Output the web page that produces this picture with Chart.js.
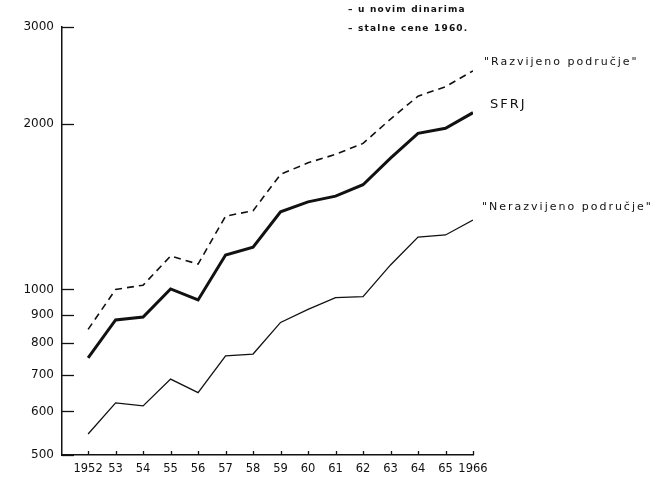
<!DOCTYPE html>
<html>
<head>
<meta charset="utf-8">
<script src="https://cdn.jsdelivr.net/npm/chart.js@4.4.1/dist/chart.umd.min.js"></script>
<style>
  html, body { margin: 0; padding: 0; background: #fff; }
  #wrap { width: 650px; height: 484px; }
</style>
</head>
<body>
<div id="wrap"><canvas id="chart" width="650" height="484"></canvas></div>
<script>
const years = [1952, 1953, 1954, 1955, 1956, 1957, 1958, 1959, 1960, 1961, 1962, 1963, 1964, 1965, 1966];
const razvijeno = [846, 1000, 1018, 1150, 1112, 1359, 1390, 1619, 1699, 1760, 1843, 2040, 2246, 2336, 2497];
const sfrj = [751, 880, 891, 1002, 957, 1155, 1193, 1384, 1443, 1478, 1550, 1733, 1922, 1963, 2096];
const nerazvijeno = [546, 622, 614, 687, 649, 757, 763, 871, 920, 966, 970, 1108, 1245, 1256, 1337];
const yTicks = [500, 600, 700, 800, 900, 1000, 2000, 3000];
const legendLines = ['u novim dinarima', 'stalne cene 1960.'];

const ink = '#111';

function pts(arr) {
    return years.map((y, i) => ({ x: y, y: arr[i] }));
}

// inward tick marks, end labels and the note at the top
const extras = {
    id: 'extras',
    afterDraw(chart) {
        const ctx = chart.ctx;
        const xs = chart.scales.x, ys = chart.scales.y;
        const left = chart.chartArea.left, bottom = chart.chartArea.bottom;
        ctx.save();
        ctx.strokeStyle = ink;
        ctx.lineWidth = 1.3;
        ys.ticks.forEach(t => {
            const py = Math.round(ys.getPixelForValue(t.value)) + 0.5;
            ctx.beginPath();
            ctx.moveTo(left, py);
            ctx.lineTo(left + 12, py);
            ctx.stroke();
        });
        xs.ticks.forEach(t => {
            const px = Math.round(xs.getPixelForValue(t.value)) + 0.5;
            ctx.beginPath();
            ctx.moveTo(px, bottom);
            ctx.lineTo(px, bottom - 4);
            ctx.stroke();
        });

        ctx.fillStyle = ink;
        ctx.textBaseline = 'middle';
        ctx.textAlign = 'left';
        ctx.font = '11px "DejaVu Sans"';
        ctx.letterSpacing = '2px';
        const last = years.length - 1;
        const lx = xs.getPixelForValue(years[last]);
        ctx.fillText('"Razvijeno područje"', lx + 11, ys.getPixelForValue(razvijeno[last]) - 9);
        ctx.fillText('"Nerazvijeno područje"', lx + 9, ys.getPixelForValue(nerazvijeno[last]) - 13);
        ctx.font = '13px "DejaVu Sans"';
        ctx.letterSpacing = '2px';
        ctx.fillText('SFRJ', lx + 17, ys.getPixelForValue(sfrj[last]) - 8);

        ctx.font = 'bold 9px "DejaVu Sans"';
        ctx.letterSpacing = '1.2px';
        legendLines.forEach((s, i) => {
            ctx.fillText('– ' + s, 348, 10 + i * 19);
        });
        ctx.restore();
    }
};

new Chart(document.getElementById('chart'), {
    type: 'line',
    data: {
        datasets: [
            {
                label: 'Razvijeno područje',
                data: pts(razvijeno),
                borderColor: ink,
                borderWidth: 1.6,
                borderDash: [7, 5],
                pointRadius: 0,
                tension: 0
            },
            {
                label: 'SFRJ',
                data: pts(sfrj),
                borderColor: ink,
                borderWidth: 3,
                pointRadius: 0,
                tension: 0
            },
            {
                label: 'Nerazvijeno područje',
                data: pts(nerazvijeno),
                borderColor: ink,
                borderWidth: 1.3,
                pointRadius: 0,
                tension: 0
            }
        ]
    },
    options: {
        responsive: false,
        animation: false,
        layout: {
            padding: { top: 27, right: 177, left: 0, bottom: 0 }
        },
        plugins: {
            legend: { display: false },
            tooltip: { enabled: false }
        },
        scales: {
            x: {
                type: 'linear',
                min: 1951.05,
                max: 1966,
                afterBuildTicks: s => { s.ticks = years.map(v => ({ value: v })); },
                afterFit: s => { s.height = 29; },
                grid: { drawOnChartArea: false, drawTicks: false },
                border: { color: ink, width: 1.5 },
                ticks: {
                    color: ink,
                    padding: 7,
                    maxRotation: 0,
                    autoSkip: false,
                    font: { family: 'DejaVu Sans', size: 11.5 },
                    callback: v => (v === 1952 || v === 1966) ? String(v) : String(v).slice(2)
                }
            },
            y: {
                type: 'logarithmic',
                min: 500,
                max: 3000,
                afterBuildTicks: s => { s.ticks = yTicks.map(v => ({ value: v })); },
                afterFit: s => { s.width = 62; },
                grid: { drawOnChartArea: false, drawTicks: false },
                border: { color: ink, width: 1.5 },
                ticks: {
                    color: ink,
                    padding: 8,
                    autoSkip: false,
                    font: { family: 'DejaVu Sans', size: 12 },
                    callback: v => String(v)
                }
            }
        }
    },
    plugins: [extras]
});
</script>
</body>
</html>
